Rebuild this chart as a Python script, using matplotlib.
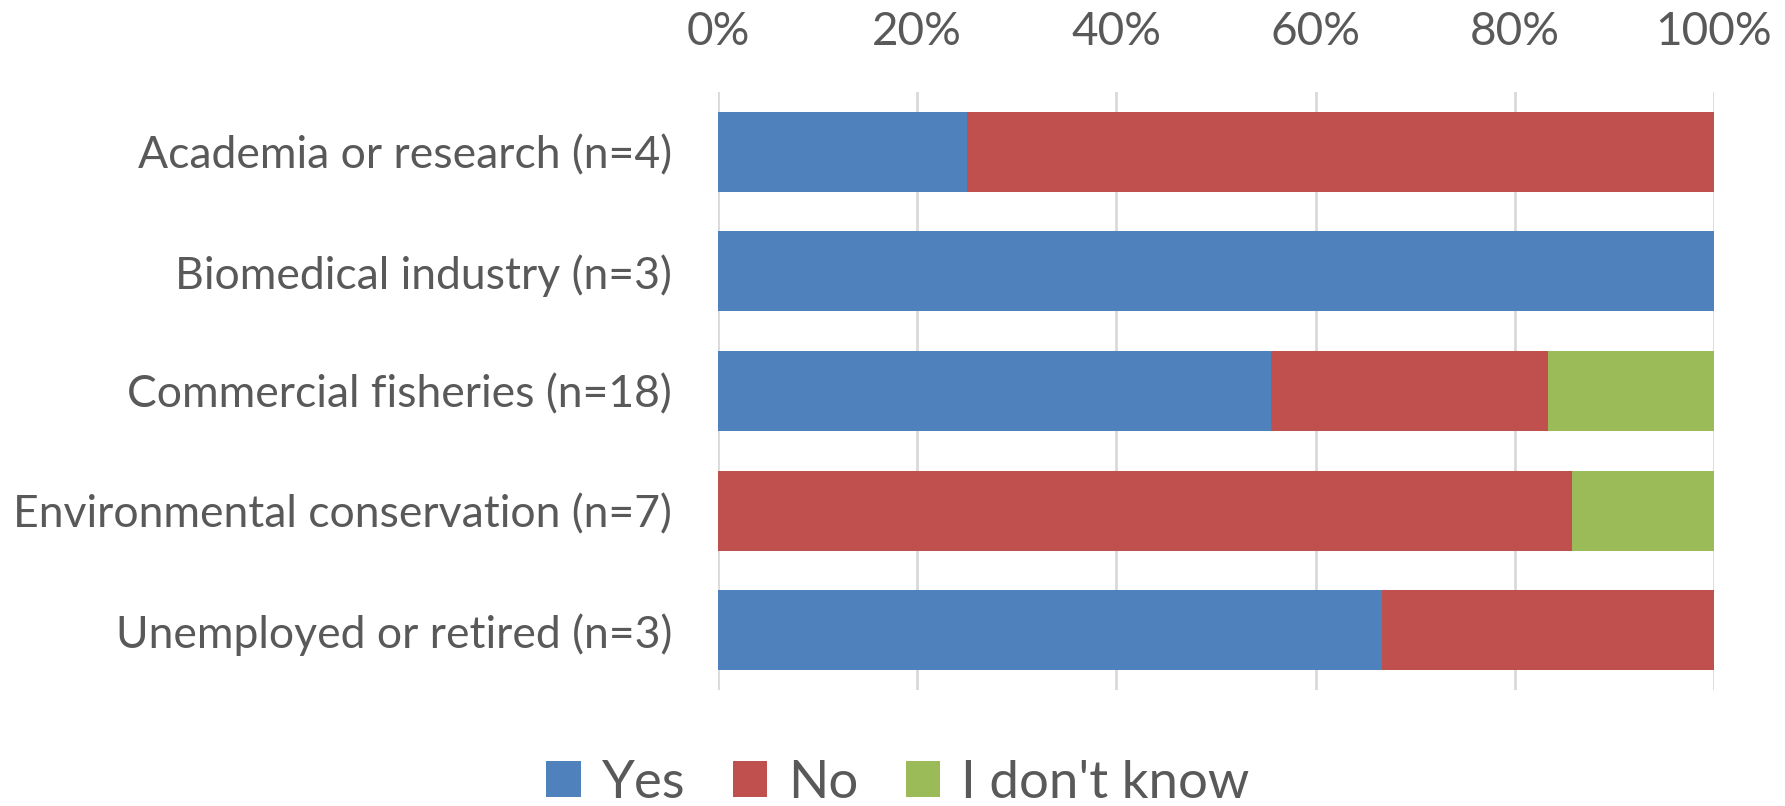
import numpy as np
import matplotlib.pyplot as plt
from matplotlib.ticker import PercentFormatter

categories = ['Academia or research (n=4)', 'Biomedical industry (n=3)',
              'Commercial fisheries (n=18)', 'Environmental conservation (n=7)',
              'Unemployed or retired (n=3)']
yes = [1/4, 3/3, 10/18, 0/7, 2/3]
no = [3/4, 0/3, 5/18, 6/7, 1/3]
dont_know = [0/4, 0/3, 3/18, 1/7, 0/3]
series_names = ['Yes', 'No', "I don't know"]
colors = ['#4F81BD', '#C0504D', '#9BBB59']
text_color = '#595959'

plt.rcParams['font.family'] = ['Lato', 'DejaVu Sans']

fig = plt.figure(figsize=(17.85, 8.06), dpi=100)
ax = fig.add_axes([718/1785, 1 - 690/806, (1714-718)/1785, (690-92)/806])

y = np.arange(len(categories))
left = np.zeros(len(categories))
for vals, name, c in zip([yes, no, dont_know], series_names, colors):
    ax.barh(y, vals, left=left, height=0.67, color=c, label=name, zorder=2)
    left += np.array(vals)

ax.set_ylim(len(categories) - 0.5, -0.5)
ax.set_xlim(0, 1)
ax.set_yticks(y)
ax.set_yticklabels(categories)
ax.set_xticks(np.linspace(0, 1, 6))
ax.xaxis.set_major_formatter(PercentFormatter(1.0, decimals=0))
ax.xaxis.tick_top()
ax.tick_params(axis='both', length=0, labelsize=33, colors=text_color)
ax.tick_params(axis='y', labelsize=32, pad=33)
ax.tick_params(axis='x', pad=28)
ax.grid(axis='x', color='#D9D9D9', linewidth=2, zorder=0)
for s in ax.spines.values():
    s.set_visible(False)

fig.legend(loc='center', bbox_to_anchor=(0.503, 1 - 783/806), ncol=3,
           frameon=False, fontsize=38, labelcolor=text_color,
           handlelength=0.65, handleheight=0.65, handletextpad=0.4,
           columnspacing=0.9)

fig.savefig('out.png', dpi=100)
